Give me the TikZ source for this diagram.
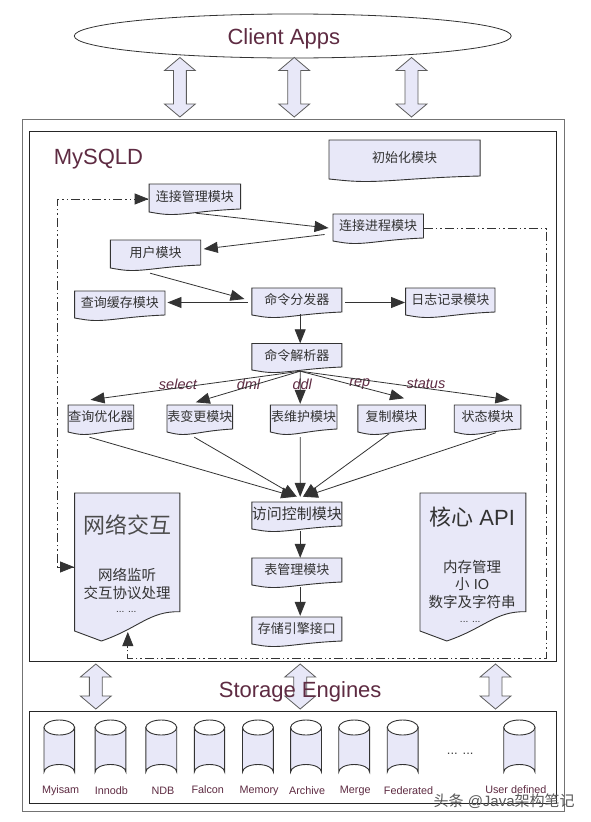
\documentclass[tikz,border=0pt]{standalone}
\usepackage{fontspec}
\setmainfont{Liberation Sans}
\newfontfamily\cjk{Noto Sans CJK SC}
\usetikzlibrary{shapes.geometric,arrows.meta,calc}
\definecolor{boxfill}{HTML}{E8E8F8}
\definecolor{wine}{HTML}{5E2B42}
\definecolor{edge}{HTML}{333333}
\tikzset{
  conn/.style={draw=edge,line width=0.8pt,-{Triangle[length=14pt,width=11pt]}},
  dashconn/.style={draw=edge,line width=0.8pt,dash pattern=on 9pt off 3pt on 1.5pt off 3pt on 1.5pt off 3pt},
  docshape/.style={draw=edge,fill=boxfill,line width=0.9pt},
  doclabel/.style={inner sep=0pt,font=\cjk,text=black!80},
  blockarrow/.style={draw=edge!80,fill=boxfill,line width=0.8pt,line join=miter},
  wine label/.style={text=wine,inner sep=0pt},
  cylbody/.style={draw=edge,fill=boxfill,line width=0.9pt},
  cyltop/.style={draw=edge,fill=white,line width=0.9pt},
  enginelabel/.style={text=wine,inner sep=0pt,font=\fontsize{10.8}{12}\selectfont},
}
% name, x0, x1, y0, y1(right bottom), text size, text
\newcommand{\docbox}[7]{%
  \path[docshape] (#2,#4) -- (#3,#4) -- (#3,#5)
    .. controls ({#2+0.6*(#3-#2)},{#5+1.5}) and ({#2+0.42*(#3-#2)},{#5+5.5}) .. ({#2+0.24*(#3-#2)},{#5+5.5})
    .. controls ({#2+0.14*(#3-#2)},{#5+5.5}) and ({#2+0.07*(#3-#2)},{#5+4}) .. (#2,{#5+3}) -- cycle;
  \node[doclabel,minimum width={(#3-#2)*1pt},minimum height={(#5-#4)*1pt},font=\cjk\fontsize{#6}{#6}\selectfont] (#1) at ({(#2+#3)/2},{(#4+#5)/2}) {#7};
}
% name, x0, x1
\newcommand{\bigdoc}[3]{%
  \path[docshape] (#2,493) -- (#3,493) -- (#3,611.7)
    .. controls ({#3-31},611) and ({#3-41},628) .. ({#2+27},641) -- (#2,631) -- cycle;
  \node[inner sep=0pt,minimum width={(#3-#2)*1pt},minimum height=118pt] (#1) at ({(#2+#3)/2},552) {};
}
% x, ytop, ybottom
\newcommand{\dblarrow}[3]{%
  \path[blockarrow] (#1,#2) -- ({#1+15.5},{#2+13}) -- ({#1+6.5},{#2+13}) -- ({#1+6.5},{#3-13}) -- ({#1+15.5},{#3-13})
    -- (#1,#3) -- ({#1-15.5},{#3-13}) -- ({#1-6.5},{#3-13}) -- ({#1-6.5},{#2+13}) -- ({#1-15.5},{#2+13}) -- cycle;
}
% x0, x1, label, label x, label y
\newcommand{\cyl}[5]{%
  \path[cylbody] (#1,727) -- (#1,772) arc[start angle=180,end angle=360,x radius={(#2-#1)/2},y radius=7.5] -- (#2,727) -- cycle;
  \path[cyltop] ({(#1+#2)/2},727.5) ellipse[x radius={(#2-#1)/2},y radius=7.5];
  \node[enginelabel] at (#4,#5) {#3};
}
\begin{document}
\begin{tikzpicture}[x=0.994pt,y=-1pt]
\useasboundingbox (0,0) rectangle (593.56,822);
\fill[white] (0,0) rectangle (593.56,822);

% containers
\draw[draw=black!55,line width=1.5pt] (22.7,119.5) rectangle (568,811.7);
\draw[draw=black!85,line width=1pt] (29.5,131.5) rectangle (560,661.5);
\draw[draw=black!85,line width=0.9pt] (29.5,711) rectangle (560,803);

% client
\node[draw=edge,fill=white,ellipse,minimum width=437pt,minimum height=44pt,inner sep=0pt,line width=0.8pt] (client) at (294.5,36) {};
\node[wine label,font=\fontsize{22}{24}\selectfont] (clienttext) at (285.5,39) {Client Apps};
\dblarrow{181}{57.5}{117}
\dblarrow{296}{57.5}{117}
\dblarrow{414}{57.5}{117}

\node[wine label,font=\fontsize{22}{24}\selectfont,anchor=west] (mysqld) at (54,159.5) {MySQLD};

% labels under lines
\node[wine label,font=\itshape\fontsize{14.5}{16}\selectfont] (lselect) at (179,384) {select};
\node[wine label,font=\itshape\fontsize{14.5}{16}\selectfont] (ldml) at (250,384) {dml};
\node[wine label,font=\itshape\fontsize{14.5}{16}\selectfont] (lddl) at (304,384) {ddl};
\node[wine label,font=\itshape\fontsize{14.5}{16}\selectfont] (lrep) at (362,384) {rep};
\node[wine label,font=\itshape\fontsize{14.5}{16}\selectfont] (lstatus) at (428.5,384) {status};

% modules
\docbox{init}{331}{483}{140}{176}{13}{初始化模块}
\docbox{cmgr}{150}{242}{184}{209}{13}{连接管理模块}
\docbox{cproc}{335}{426}{214}{238}{13}{连接进程模块}
\docbox{user}{111}{202}{240}{265}{13}{用户模块}
\docbox{qcache}{75}{166}{291}{315}{13}{查询缓存模块}
\docbox{disp}{253.4}{344}{288}{312}{13}{命令分发器}
\docbox{logm}{408}{498}{288}{312}{13}{日志记录模块}
\docbox{parser}{253.4}{344}{343.5}{367}{13}{命令解析器}
\docbox{opt}{68.5}{134.6}{405}{429}{13}{查询优化器}
\docbox{chg}{168}{234}{405}{429}{13}{表变更模块}
\docbox{maint}{272}{339}{405}{429}{13}{表维护模块}
\docbox{repl}{360}{428}{405}{429}{13}{复制模块}
\docbox{stat}{457}{524}{405}{429}{13}{状态模块}
\docbox{acl}{253.4}{344}{502}{526}{15}{访问控制模块}
\docbox{tblm}{253.4}{344}{558}{582}{13}{表管理模块}
\docbox{seif}{253.4}{344}{617}{641}{13}{存储引擎接口}

\bigdoc{net}{75}{181}
\bigdoc{core}{422.5}{529}
\node[doclabel,font=\cjk\fontsize{22}{24}\selectfont,text=black!70] (nettitle) at (128,525) {网络交互};
\node[doclabel,font=\cjk\fontsize{14.5}{16}\selectfont] (netl1) at (128,575) {网络监听};
\node[doclabel,font=\cjk\fontsize{14.5}{16}\selectfont] (netl2) at (128,592.7) {交互协议处理};
\node[inner sep=0pt,font=\fontsize{10}{12}\selectfont,text=black!80] (netl3) at (127,612) {... ...};
\node[doclabel,font=\fontsize{22}{24}\selectfont] (coretitle) at (475,517) {{\cjk 核心} API};
\node[doclabel,font=\cjk\fontsize{14.5}{16}\selectfont] (corel1) at (475,567) {内存管理};
\node[doclabel,font=\fontsize{14.5}{16}\selectfont] (corel2) at (475,584) {{\cjk 小} IO};
\node[doclabel,font=\cjk\fontsize{14.5}{16}\selectfont] (corel3) at (475,602) {数字及字符串};
\node[inner sep=0pt,font=\fontsize{10}{12}\selectfont,text=black!80] (corel4) at (473,622) {... ...};

% connectors
\draw[conn] ([shift={(1,4)}]cmgr.south) -- ([shift={(-4,2)}]cproc.west);
\draw[conn] ([shift={(-8,8.5)}]cproc.west) -- ([shift={(2.5,-3.5)}]user.east);
\draw[conn] ([shift={(-5.5,8)}]user.south) -- ([shift={(-7,-1)}]disp.west);
\draw[conn] ([shift={(-3.5,2.5)}]disp.west) -- ([shift={(2,-0.5)}]qcache.east);
\draw[conn] ([shift={(3,2.5)}]disp.east) -- ([shift={(0,2.5)}]logm.west);
\draw[conn] ([shift={(3.3,2)}]disp.south) -- ([shift={(3.3,0)}]parser.north);
\draw[conn] ([shift={(3.3,4)}]parser.south) -- ([shift={(-10.5,-5)}]opt.north);
\draw[conn] ([shift={(3.3,4)}]parser.south) -- ([shift={(-4,-2.5)}]chg.north);
\draw[conn] ([shift={(3.3,4)}]parser.south) -- ([shift={(-3.5,-1)}]maint.north);
\draw[conn] ([shift={(3.3,4)}]parser.south) -- ([shift={(12.5,-6.5)}]repl.north);
\draw[conn] ([shift={(3.3,4)}]parser.south) -- ([shift={(22,-5)}]stat.north);
\draw[conn] ([shift={(-11.5,8)}]opt.south) -- ([shift={(-1.7,-5)}]acl.north);
\draw[conn] ([shift={(-5.5,8)}]chg.south) -- ([shift={(0,-5)}]acl.north);
\draw[conn] ([shift={(-3.5,8)}]maint.south) -- ([shift={(3.3,-5)}]acl.north);
\draw[conn] ([shift={(-2.5,4.5)}]repl.south) -- ([shift={(6,-5)}]acl.north);
\draw[conn] ([shift={(8.5,3.5)}]stat.south) -- ([shift={(7,-5)}]acl.north);
\draw[conn] ([shift={(3.3,5)}]acl.south) -- ([shift={(3.3,0)}]tblm.north);
\draw[conn] ([shift={(3.3,5)}]tblm.south) -- ([shift={(3.3,-1)}]seif.north);

% dash-dot links
\coordinate (la) at (57.5,567);
\coordinate (lb) at (57.5,199);
\coordinate (ra) at (550,228.5);
\coordinate (rb) at (550,658);
\coordinate (rc) at (128.6,658);
\draw[dashconn] (net.west |- la) -- (la) -- (lb) -- ([shift={(0,2.5)}]cmgr.west);
\path[conn,dash pattern=] (la) -- (net.west |- la);
\path[conn,dash pattern=] ([shift={(-14,2.5)}]cmgr.west) -- ([shift={(0,2.5)}]cmgr.west);
\draw[dashconn] ([shift={(0,2.5)}]cproc.east) -- (ra) -- (rb) -- (rc) -- (128.6,645);
\path[conn,dash pattern=] (128.6,648) -- (128.6,632);

% storage
\dblarrow{96.4}{664}{709}
\dblarrow{302}{664}{709}
\dblarrow{498.5}{664}{709}
\node[wine label,font=\fontsize{22}{24}\selectfont] (storage) at (302,692) {Storage Engines};

\cyl{44.3}{75}{Myisam}{61}{791}
\cyl{95.7}{126.7}{Innodb}{112}{791}
\cyl{146.7}{177.8}{NDB}{164}{791}
\cyl{195.5}{226}{Falcon}{209}{790}
\cyl{244}{275}{Memory}{260.6}{790.5}
\cyl{292.4}{323.4}{Archive}{309}{791}
\cyl{340.8}{371.8}{Merge}{357.4}{791}
\cyl{389.6}{420.6}{Federated}{411}{791}
\cyl{506.8}{538.2}{User defined}{519}{790}
\node[inner sep=0pt,font=\fontsize{13}{14}\selectfont,text=black!75] (more) at (463,754) {... ...};

% watermark
\node[inner sep=0pt,font=\fontsize{15}{16}\selectfont,text=black!65,anchor=west] (wm) at (436,801.5) {{\cjk 头条} @Java{\cjk 架构笔记}};
\end{tikzpicture}
\end{document}
